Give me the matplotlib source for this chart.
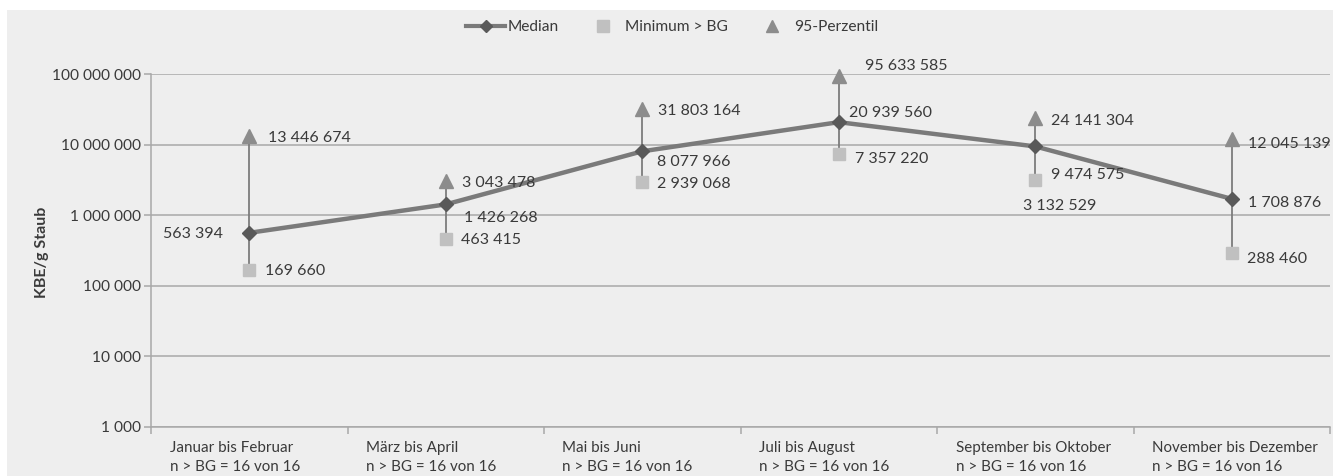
import matplotlib
matplotlib.use("Agg")
import matplotlib.pyplot as plt
from matplotlib.lines import Line2D
from matplotlib.patches import Rectangle
from matplotlib.ticker import FixedLocator, FuncFormatter, NullLocator
import numpy as np

# --- data -------------------------------------------------------------
periods = ["Januar bis Februar", "März bis April", "Mai bis Juni",
           "Juli bis August", "September bis Oktober", "November bis Dezember"]
counts = ["n > BG = 16 von 16"] * 6
median = [563394, 1426268, 8077966, 20939560, 9474575, 1708876]
minimum = [169660, 463415, 2939068, 7357220, 3132529, 288460]
p95 = [13446674, 3043478, 31803164, 95633585, 24141304, 12045139]
y_ticks = [1e3, 1e4, 1e5, 1e6, 1e7, 1e8]

# label offsets in pixels (dx, dy, horizontal alignment)
median_pos = [(-26, 0, "right"), (18, -12, "left"), (15, -9, "left"),
              (10, 11, "left"), (16, -27, "left"), (16, -3, "left")]
min_pos = [(16, 0, "left"), (15, 0, "left"), (15, 0, "left"),
           (16, -3, "left"), (-12, -24, "left"), (15, -4, "left")]
p95_pos = [(19, -1, "left"), (16, 0, "left"), (16, 0, "left"),
           (26, 11, "left"), (16, -2, "left"), (16, -3, "left")]

plt.rcParams["font.family"] = ["Lato", "DejaVu Sans"]
TXT = "#3a3a3a"
GRID = "#a8a8a8"

W, H = 1333, 476
fig = plt.figure(figsize=(W / 100, H / 100), dpi=100)
fig.patch.set_facecolor("white")
fig.add_artist(Rectangle((7 / W, 0), 1, (H - 9.5) / H, transform=fig.transFigure,
                         facecolor="#eeeeee", edgecolor="none", zorder=-10))

left, right, top, bottom = 151, 1330, 74.3, 426.7
ax = fig.add_axes([left / W, 1 - bottom / H, (right - left) / W, (bottom - top) / H])
ax.set_facecolor("none")
ax.set_yscale("log")
ax.set_ylim(1e3, 1e8)
ax.set_xlim(-0.5, len(periods) - 0.5)

x = np.arange(len(periods))

# grid and axes
ax.yaxis.set_major_locator(FixedLocator(y_ticks))
ax.yaxis.set_minor_locator(NullLocator())
ax.yaxis.set_major_formatter(FuncFormatter(lambda v, p: f"{int(round(v)):,}".replace(",", " ")))
ax.grid(axis="y", color=GRID, lw=1.1, zorder=0)
ax.set_axisbelow(True)
for s in ("top", "right"):
    ax.spines[s].set_visible(False)
for s in ("left", "bottom"):
    ax.spines[s].set_color(GRID)
    ax.spines[s].set_linewidth(1.1)
ax.tick_params(axis="y", length=5, width=1.1, color=GRID, labelsize=11.2,
               labelcolor=TXT, pad=2)
ax.set_xticks(np.arange(-0.5, len(periods)), labels=[])
ax.tick_params(axis="x", length=5, width=1.1, color=GRID)

# category labels, left-aligned after each boundary tick
xtr = ax.get_xaxis_transform()
for i, (p, c) in enumerate(zip(periods, counts)):
    ax.annotate(p, xy=(i - 0.5, 0), xycoords=xtr, xytext=(18.5, -19.5),
                textcoords="offset pixels", ha="left", va="center_baseline",
                fontsize=10.9, color=TXT, annotation_clip=False)
    ax.annotate(c, xy=(i - 0.5, 0), xycoords=xtr, xytext=(18.5, -38.5),
                textcoords="offset pixels", ha="left", va="center_baseline",
                fontsize=10.9, color=TXT, annotation_clip=False)

# high-low lines, median line and markers
ax.vlines(x, minimum, p95, color="#7c7c7c", lw=1.3, zorder=3)
ax.plot(x, median, color="#7a7a7a", lw=3.2, marker="D", ms=7.5,
        mfc="#595959", mec="#595959", zorder=4, clip_on=False)
ax.plot(x, minimum, ls="none", marker="s", ms=8.5, color="#c0c0c0", zorder=5,
        clip_on=False)
ax.plot(x, p95, ls="none", marker="^", ms=9.5, color="#8c8c8c", zorder=5,
        clip_on=False)

def fmt(v):
    return f"{v:,}".replace(",", " ")

for vals, pos in ((median, median_pos), (minimum, min_pos), (p95, p95_pos)):
    for xi, v, (dx, dy, ha) in zip(x, vals, pos):
        ax.annotate(fmt(v), xy=(xi, v), xytext=(dx, dy), textcoords="offset pixels",
                    ha=ha, va="center_baseline", fontsize=11.5, color=TXT, zorder=6)

fig.text(42 / W, 1 - 252 / H, "KBE/g Staub", rotation=90, ha="center", va="center",
         fontsize=11.5, fontweight="bold", color=TXT)

handles = [
    Line2D([], [], color="#7a7a7a", lw=3, marker="D", ms=6, mfc="#595959", mec="#595959"),
    Line2D([], [], ls="none", marker="s", ms=8, color="#c0c0c0"),
    Line2D([], [], ls="none", marker="^", ms=9, color="#8c8c8c"),
]
fig.legend(handles, ["Median", "Minimum > BG", "95-Perzentil"], loc="center",
           bbox_to_anchor=(672 / W, 1 - 27 / H), ncol=3, frameon=False,
           fontsize=11.2, labelcolor=TXT, handlelength=2.5, handletextpad=0.15,
           columnspacing=1.6, borderpad=0)

fig.savefig("out.png", dpi=100)
